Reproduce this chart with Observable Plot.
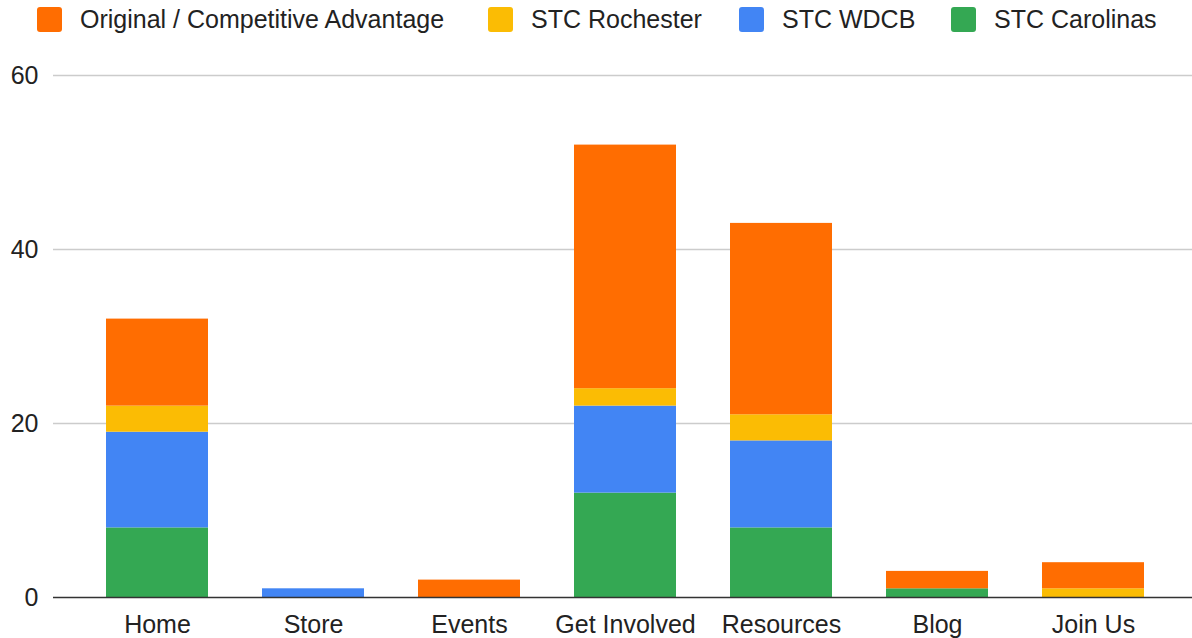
<!DOCTYPE html>
<html>
<head>
<meta charset="utf-8">
<script src="https://cdn.jsdelivr.net/npm/d3@7"></script>
<script src="https://cdn.jsdelivr.net/npm/@observablehq/plot@0.6"></script>
<style>
  html, body { margin: 0; padding: 0; background: #fff; }
  body { width: 1192px; height: 638px; overflow: hidden; font-family: "Liberation Sans", Arial, sans-serif; }
  #legend { position: relative; height: 38px; }
  .item { position: absolute; top: 0; height: 39px; display: flex; align-items: center; font-size: 25px; color: #222; white-space: nowrap; }
  .sw { width: 25px; height: 25px; border-radius: 3px; margin-right: 18px; }
</style>
</head>
<body>
<div id="legend"></div>
<div id="chart"></div>
<script>
const categories = ["Home", "Store", "Events", "Get Involved", "Resources", "Blog", "Join Us"];
const seriesNames = ["Original / Competitive Advantage", "STC Rochester", "STC WDCB", "STC Carolinas"];
const seriesColors = ["#ff6d01", "#fbbc04", "#4285f4", "#34a853"];
const carolinas = [8, 0, 0, 12, 8, 1, 0];
const wdcb = [11, 1, 0, 10, 10, 0, 0];
const rochester = [3, 0, 0, 2, 3, 0, 1];
const original = [10, 0, 2, 28, 22, 2, 3];
const yTicks = [0, 20, 40, 60];

// stacking order bottom -> top
const stackOrder = [
  ["STC Carolinas", carolinas],
  ["STC WDCB", wdcb],
  ["STC Rochester", rochester],
  ["Original / Competitive Advantage", original]
];
const data = [];
for (const [name, vals] of stackOrder) {
  categories.forEach((c, i) => data.push({category: c, series: name, value: vals[i]}));
}

// legend
const legendX = [37, 488, 739, 951];
const legend = document.getElementById("legend");
seriesNames.forEach((n, i) => {
  const d = document.createElement("div");
  d.className = "item";
  d.style.left = legendX[i] + "px";
  d.innerHTML = `<span class="sw" style="background:${seriesColors[i]}"></span><span>${n}</span>`;
  legend.appendChild(d);
});

const chart = Plot.plot({
  width: 1192,
  height: 600,
  marginTop: 37,
  marginBottom: 41,
  marginLeft: 53,
  marginRight: 0,
  style: {fontFamily: "Liberation Sans, Arial, sans-serif", fontSize: "25px", color: "#222", background: "#fff"},
  x: {domain: categories, range: [52, 1198], padding: 0.346, label: null},
  y: {domain: [0, 60], label: null},
  color: {domain: seriesNames, range: seriesColors},
  marks: [
    Plot.ruleY(yTicks.filter(t => t > 0), {stroke: "#cccccc", strokeWidth: 1.5}),
    Plot.barY(data, {x: "category", y: "value", fill: "series", order: null}),
    Plot.ruleY([0], {stroke: "#333333", strokeWidth: 1.5}),
    Plot.axisX({tickSize: 0, tickPadding: 18, fontSize: 25, label: null}),
    Plot.axisY({ticks: yTicks, tickSize: 0, tickPadding: 15, fontSize: 25, label: null, anchor: "left"})
  ]
});
document.getElementById("chart").appendChild(chart);
</script>
</body>
</html>
